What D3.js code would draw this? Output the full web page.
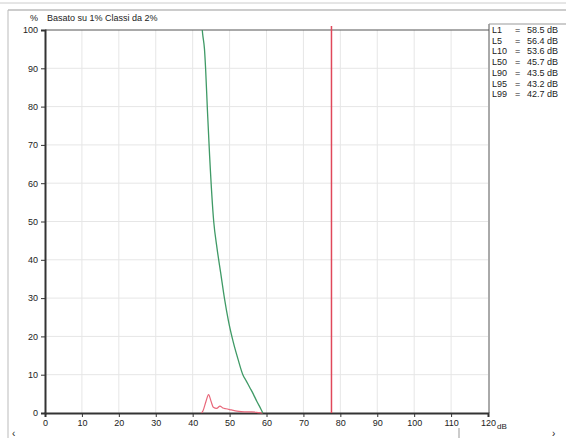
<!DOCTYPE html>
<html>
<head>
<meta charset="utf-8">
<script src="https://cdn.jsdelivr.net/npm/d3@7"></script>
<style>
  body { margin: 0; background: #fff; }
  svg text { font-family: "Liberation Sans", Arial, sans-serif; fill: #222; }
</style>
</head>
<body>
<svg id="chart" width="566" height="438"></svg>
<script>
// cumulative exceedance curve (green)
const cumDb = [42.6, 42.7, 43.2, 43.5, 44.0, 44.6, 45.7, 46.6, 47.6, 48.6, 49.7, 51.0, 52.3, 53.6, 54.5, 55.5, 56.4, 57.4, 58.5, 59.0];
const cumPct = [100, 99, 95, 90, 79, 67, 50, 43, 36.5, 30, 24, 18.5, 14, 10, 8.4, 6.6, 5, 3, 1, 0];

// distribution per class (red)
const distDb = [42.4, 42.8, 43.6, 44.3, 45.0, 45.6, 46.5, 47.4, 48.2, 49.0, 50.5, 52.0, 54.0, 56.0, 58.0, 59.0];
const distPct = [0, 0.6, 3.0, 4.8, 3.0, 1.5, 1.2, 1.8, 1.3, 1.1, 0.8, 0.5, 0.3, 0.3, 0.1, 0];

// red marker line
const markerDb = 77.6;

const xTicks = [0, 10, 20, 30, 40, 50, 60, 70, 80, 90, 100, 110, 120];
const yTicks = [0, 10, 20, 30, 40, 50, 60, 70, 80, 90, 100];

const pLabels = ["L1", "L5", "L10", "L50", "L90", "L95", "L99"];
const pValues = [58.5, 56.4, 53.6, 45.7, 43.5, 43.2, 42.7];

const svg = d3.select("#chart");

const x = d3.scaleLinear().domain([0, 120]).range([45, 488]);
const y = d3.scaleLinear().domain([0, 100]).range([413, 30]);

// window frame bits
svg.append("line").attr("x1", 0).attr("x2", 566).attr("y1", 3).attr("y2", 3)
  .attr("stroke", "#ccc").attr("stroke-width", 1);
svg.append("line").attr("x1", 8).attr("x2", 566).attr("y1", 10).attr("y2", 10)
  .attr("stroke", "#999").attr("stroke-width", 1);
svg.append("line").attr("x1", 8).attr("x2", 8).attr("y1", 10).attr("y2", 438)
  .attr("stroke", "#bbb").attr("stroke-width", 1);
svg.append("line").attr("x1", 459).attr("x2", 459).attr("y1", 428).attr("y2", 438)
  .attr("stroke", "#999");
svg.append("text").attr("x", 12).attr("y", 437).attr("font-size", 10).text("‹");
svg.append("text").attr("x", 552).attr("y", 437).attr("font-size", 10).text("›");

// grid
const grid = svg.append("g").attr("stroke", "#e6e6e6").attr("stroke-width", 1);
grid.selectAll(".vg").data(xTicks.slice(1, -1)).enter().append("line")
  .attr("x1", d => x(d)).attr("x2", d => x(d)).attr("y1", y(100)).attr("y2", y(0));
grid.selectAll(".hg").data(yTicks.slice(1, -1)).enter().append("line")
  .attr("x1", x(0)).attr("x2", x(120)).attr("y1", d => y(d)).attr("y2", d => y(d));

// frame
svg.append("line").attr("x1", x(0)).attr("x2", x(120) + 1).attr("y1", y(100)).attr("y2", y(100))
  .attr("stroke", "#555");
svg.append("line").attr("x1", x(120) + 1).attr("x2", x(120) + 1).attr("y1", 24).attr("y2", y(0))
  .attr("stroke", "#555");
svg.append("line").attr("x1", x(120) + 1).attr("x2", 566).attr("y1", 24).attr("y2", 24)
  .attr("stroke", "#999");

// axes
const xAxis = svg.append("g").attr("transform", `translate(0,${y(0)})`)
  .call(d3.axisBottom(x).tickValues(xTicks).tickSize(4).tickFormat(d3.format("d")));
const yAxis = svg.append("g").attr("transform", `translate(${x(0)},0)`)
  .call(d3.axisLeft(y).tickValues(yTicks).tickSize(4).tickFormat(d3.format("d")));
[xAxis, yAxis].forEach(a => {
  a.select(".domain").attr("stroke", "#333").attr("stroke-width", 2);
  a.selectAll(".tick line").attr("stroke", "#333");
  a.selectAll("text").attr("font-size", 9).attr("fill", "#222")
    .attr("font-family", "Liberation Sans, Arial, sans-serif");
});
yAxis.selectAll("text").attr("x", -7);
svg.append("text").attr("x", x(120) + 9).attr("y", y(0) + 16).attr("font-size", 8).text("dB");

// header
svg.append("text").attr("x", 30).attr("y", 21).attr("font-size", 9).text("%");
svg.append("text").attr("x", 47).attr("y", 21).attr("font-size", 9).text("Basato su 1%  Classi da 2%");

// curves
const line = d3.line().x(d => x(d[0])).y(d => y(d[1])).curve(d3.curveMonotoneX);
svg.append("path").datum(d3.zip(distDb, distPct)).attr("d", line)
  .attr("fill", "none").attr("stroke", "#e8677a").attr("stroke-width", 1.2);
svg.append("path").datum(d3.zip(cumDb, cumPct)).attr("d", line)
  .attr("fill", "none").attr("stroke", "#3f9a66").attr("stroke-width", 1.3);

// marker line
svg.append("line").attr("x1", x(markerDb)).attr("x2", x(markerDb)).attr("y1", 26).attr("y2", y(0))
  .attr("stroke", "#e0485a").attr("stroke-width", 1.5);

// percentile legend
const leg = svg.append("g").attr("font-size", 9);
leg.selectAll(".pl").data(pLabels).enter().append("text")
  .attr("x", 492).attr("y", (d, i) => 33 + i * 10.7).text(d => d);
leg.selectAll(".pe").data(pLabels).enter().append("text")
  .attr("x", 515).attr("y", (d, i) => 33 + i * 10.7).text("=");
leg.selectAll(".pv").data(pValues).enter().append("text")
  .attr("x", 527).attr("y", (d, i) => 33 + i * 10.7).text(d => d.toFixed(1) + " dB");
</script>
</body>
</html>
